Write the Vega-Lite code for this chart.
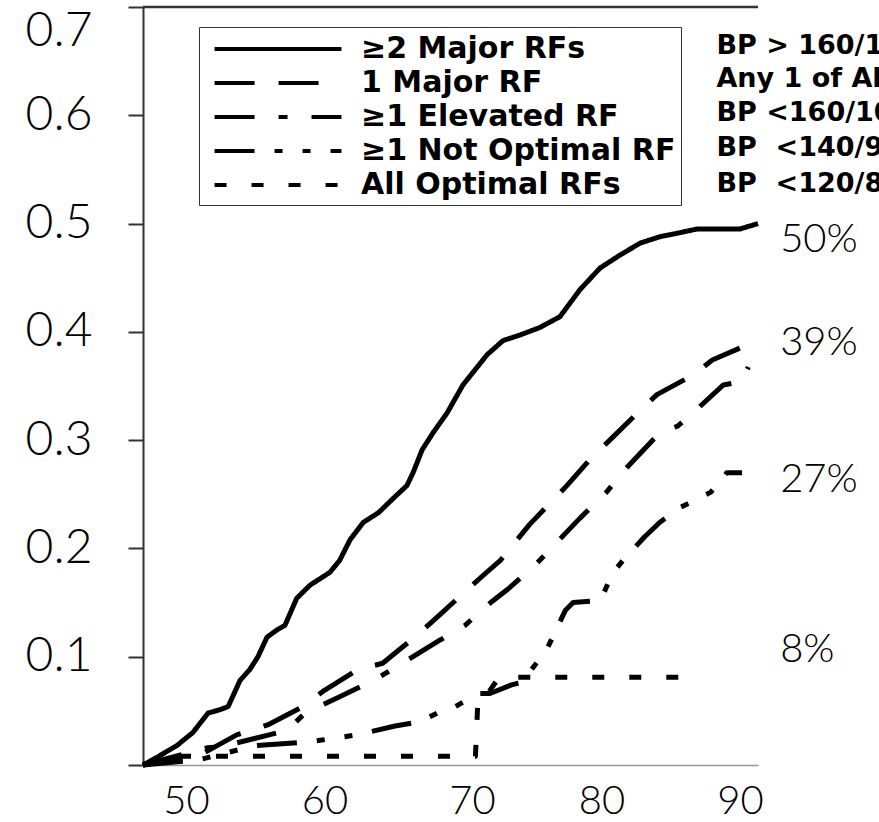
{
  "$schema": "https://vega.github.io/schema/vega-lite/v6.json",
  "autosize": "none",
  "width": 615,
  "height": 758,
  "padding": {"left": 143, "top": 7, "right": 121, "bottom": 57},
  "background": "white",
  "config": {"view": {"stroke": null}},
  "datasets": {
    "curves": [
      {"g": "≥2 Major RFs", "a": 46.9, "v": 0},
      {"g": "≥2 Major RFs", "a": 47.9, "v": 0.007},
      {"g": "≥2 Major RFs", "a": 49.35, "v": 0.018},
      {"g": "≥2 Major RFs", "a": 50.5, "v": 0.03},
      {"g": "≥2 Major RFs", "a": 51.6, "v": 0.048},
      {"g": "≥2 Major RFs", "a": 52.45, "v": 0.051},
      {"g": "≥2 Major RFs", "a": 53.05, "v": 0.054},
      {"g": "≥2 Major RFs", "a": 53.9, "v": 0.078},
      {"g": "≥2 Major RFs", "a": 54.6, "v": 0.088},
      {"g": "≥2 Major RFs", "a": 55.2, "v": 0.1},
      {"g": "≥2 Major RFs", "a": 55.85, "v": 0.118},
      {"g": "≥2 Major RFs", "a": 56.6, "v": 0.125},
      {"g": "≥2 Major RFs", "a": 57.15, "v": 0.129},
      {"g": "≥2 Major RFs", "a": 58.0, "v": 0.154},
      {"g": "≥2 Major RFs", "a": 58.95, "v": 0.166},
      {"g": "≥2 Major RFs", "a": 60.4, "v": 0.178},
      {"g": "≥2 Major RFs", "a": 61.1, "v": 0.189},
      {"g": "≥2 Major RFs", "a": 61.85, "v": 0.208},
      {"g": "≥2 Major RFs", "a": 62.8, "v": 0.224},
      {"g": "≥2 Major RFs", "a": 63.9, "v": 0.233},
      {"g": "≥2 Major RFs", "a": 64.95, "v": 0.246},
      {"g": "≥2 Major RFs", "a": 65.95, "v": 0.258},
      {"g": "≥2 Major RFs", "a": 66.4, "v": 0.27},
      {"g": "≥2 Major RFs", "a": 67.05, "v": 0.291},
      {"g": "≥2 Major RFs", "a": 67.85, "v": 0.307},
      {"g": "≥2 Major RFs", "a": 68.85, "v": 0.325},
      {"g": "≥2 Major RFs", "a": 70.0, "v": 0.351},
      {"g": "≥2 Major RFs", "a": 71.75, "v": 0.379},
      {"g": "≥2 Major RFs", "a": 72.9, "v": 0.392},
      {"g": "≥2 Major RFs", "a": 74.1, "v": 0.397},
      {"g": "≥2 Major RFs", "a": 75.55, "v": 0.404},
      {"g": "≥2 Major RFs", "a": 77.0, "v": 0.414},
      {"g": "≥2 Major RFs", "a": 78.45, "v": 0.439},
      {"g": "≥2 Major RFs", "a": 79.9, "v": 0.459},
      {"g": "≥2 Major RFs", "a": 81.35, "v": 0.471},
      {"g": "≥2 Major RFs", "a": 82.8, "v": 0.482},
      {"g": "≥2 Major RFs", "a": 84.25, "v": 0.488},
      {"g": "≥2 Major RFs", "a": 85.45, "v": 0.491},
      {"g": "≥2 Major RFs", "a": 86.9, "v": 0.495},
      {"g": "≥2 Major RFs", "a": 90.0, "v": 0.495},
      {"g": "≥2 Major RFs", "a": 91.3, "v": 0.5},

      {"g": "1 Major RF", "a": 46.9, "v": 0},
      {"g": "1 Major RF", "a": 51.0, "v": 0.009},
      {"g": "1 Major RF", "a": 53.7, "v": 0.028},
      {"g": "1 Major RF", "a": 55.9, "v": 0.037},
      {"g": "1 Major RF", "a": 58.45, "v": 0.054},
      {"g": "1 Major RF", "a": 60.0, "v": 0.069},
      {"g": "1 Major RF", "a": 62.4, "v": 0.088},
      {"g": "1 Major RF", "a": 64.2, "v": 0.094},
      {"g": "1 Major RF", "a": 66.7, "v": 0.12},
      {"g": "1 Major RF", "a": 68.3, "v": 0.1385},
      {"g": "1 Major RF", "a": 70.15, "v": 0.16},
      {"g": "1 Major RF", "a": 71.45, "v": 0.175},
      {"g": "1 Major RF", "a": 72.7, "v": 0.189},
      {"g": "1 Major RF", "a": 74.8, "v": 0.222},
      {"g": "1 Major RF", "a": 77.5, "v": 0.258},
      {"g": "1 Major RF", "a": 79.3, "v": 0.284},
      {"g": "1 Major RF", "a": 80.6, "v": 0.3},
      {"g": "1 Major RF", "a": 82.6, "v": 0.325},
      {"g": "1 Major RF", "a": 84.0, "v": 0.342},
      {"g": "1 Major RF", "a": 86.6, "v": 0.36},
      {"g": "1 Major RF", "a": 88.0, "v": 0.374},
      {"g": "1 Major RF", "a": 90.9, "v": 0.39},

      {"g": "≥1 Elevated RF", "a": 46.9, "v": 0},
      {"g": "≥1 Elevated RF", "a": 51.6, "v": 0.016},
      {"g": "≥1 Elevated RF", "a": 52.6, "v": 0.017},
      {"g": "≥1 Elevated RF", "a": 57.3, "v": 0.032},
      {"g": "≥1 Elevated RF", "a": 58.6, "v": 0.048},
      {"g": "≥1 Elevated RF", "a": 61.1, "v": 0.063},
      {"g": "≥1 Elevated RF", "a": 63.8, "v": 0.08},
      {"g": "≥1 Elevated RF", "a": 66.0, "v": 0.097},
      {"g": "≥1 Elevated RF", "a": 68.3, "v": 0.115},
      {"g": "≥1 Elevated RF", "a": 70.15, "v": 0.129},
      {"g": "≥1 Elevated RF", "a": 72.0, "v": 0.15},
      {"g": "≥1 Elevated RF", "a": 73.3, "v": 0.163},
      {"g": "≥1 Elevated RF", "a": 75.35, "v": 0.1865},
      {"g": "≥1 Elevated RF", "a": 78.45, "v": 0.228},
      {"g": "≥1 Elevated RF", "a": 80.3, "v": 0.251},
      {"g": "≥1 Elevated RF", "a": 81.85, "v": 0.275},
      {"g": "≥1 Elevated RF", "a": 84.2, "v": 0.3066},
      {"g": "≥1 Elevated RF", "a": 85.5, "v": 0.313},
      {"g": "≥1 Elevated RF", "a": 87.1, "v": 0.331},
      {"g": "≥1 Elevated RF", "a": 88.8, "v": 0.351},
      {"g": "≥1 Elevated RF", "a": 90.1, "v": 0.354},
      {"g": "≥1 Elevated RF", "a": 90.6, "v": 0.3675},

      {"g": "≥1 Not Optimal RF", "a": 46.9, "v": 0},
      {"g": "≥1 Not Optimal RF", "a": 51.0, "v": 0.005},
      {"g": "≥1 Not Optimal RF", "a": 55.0, "v": 0.018},
      {"g": "≥1 Not Optimal RF", "a": 58.45, "v": 0.021},
      {"g": "≥1 Not Optimal RF", "a": 59.8, "v": 0.023},
      {"g": "≥1 Not Optimal RF", "a": 62.4, "v": 0.028},
      {"g": "≥1 Not Optimal RF", "a": 65.1, "v": 0.036},
      {"g": "≥1 Not Optimal RF", "a": 66.9, "v": 0.04},
      {"g": "≥1 Not Optimal RF", "a": 68.3, "v": 0.049},
      {"g": "≥1 Not Optimal RF", "a": 69.4, "v": 0.0536},
      {"g": "≥1 Not Optimal RF", "a": 71.1, "v": 0.066},
      {"g": "≥1 Not Optimal RF", "a": 71.95, "v": 0.066},
      {"g": "≥1 Not Optimal RF", "a": 73.5, "v": 0.074},
      {"g": "≥1 Not Optimal RF", "a": 74.3, "v": 0.0766},
      {"g": "≥1 Not Optimal RF", "a": 75.35, "v": 0.095},
      {"g": "≥1 Not Optimal RF", "a": 76.1, "v": 0.108},
      {"g": "≥1 Not Optimal RF", "a": 76.65, "v": 0.123},
      {"g": "≥1 Not Optimal RF", "a": 77.4, "v": 0.143},
      {"g": "≥1 Not Optimal RF", "a": 77.95, "v": 0.15},
      {"g": "≥1 Not Optimal RF", "a": 79.9, "v": 0.152},
      {"g": "≥1 Not Optimal RF", "a": 80.1, "v": 0.157},
      {"g": "≥1 Not Optimal RF", "a": 80.8, "v": 0.177},
      {"g": "≥1 Not Optimal RF", "a": 81.55, "v": 0.189},
      {"g": "≥1 Not Optimal RF", "a": 83.1, "v": 0.2105},
      {"g": "≥1 Not Optimal RF", "a": 84.2, "v": 0.224},
      {"g": "≥1 Not Optimal RF", "a": 85.7, "v": 0.238},
      {"g": "≥1 Not Optimal RF", "a": 86.5, "v": 0.243},
      {"g": "≥1 Not Optimal RF", "a": 87.9, "v": 0.252},
      {"g": "≥1 Not Optimal RF", "a": 89.05, "v": 0.27},
      {"g": "≥1 Not Optimal RF", "a": 90.15, "v": 0.27},

      {"g": "All Optimal RFs", "a": 46.9, "v": 0},
      {"g": "All Optimal RFs", "a": 49.5, "v": 0.008},
      {"g": "All Optimal RFs", "a": 55.0, "v": 0.008},
      {"g": "All Optimal RFs", "a": 60.0, "v": 0.008},
      {"g": "All Optimal RFs", "a": 65.0, "v": 0.008},
      {"g": "All Optimal RFs", "a": 70.9, "v": 0.008},
      {"g": "All Optimal RFs", "a": 71.1, "v": 0.066},
      {"g": "All Optimal RFs", "a": 71.9, "v": 0.068},
      {"g": "All Optimal RFs", "a": 72.6, "v": 0.081},
      {"g": "All Optimal RFs", "a": 80.0, "v": 0.081},
      {"g": "All Optimal RFs", "a": 86.9, "v": 0.081}
    ],
    "pct": [
      {"t": "50%", "a": 92.9, "v": 0.485},
      {"t": "39%", "a": 92.9, "v": 0.39},
      {"t": "27%", "a": 92.9, "v": 0.263},
      {"t": "8%", "a": 92.9, "v": 0.106}
    ],
    "bp": [
      {"t": "BP > 160/100", "a": 88.3, "v": 0.664},
      {"t": "Any 1 of Above", "a": 88.3, "v": 0.6334},
      {"t": "BP <160/100", "a": 88.3, "v": 0.602},
      {"t": "BP\u00a0 <140/90", "a": 88.3, "v": 0.5697},
      {"t": "BP\u00a0 <120/80", "a": 88.3, "v": 0.537}
    ]
  },
  "layer": [
    {
      "data": {"values": [{"v": 0.7}]},
      "mark": {"type": "rule", "stroke": "#333", "strokeWidth": 2.5},
      "encoding": {"y": {"field": "v", "type": "quantitative", "scale": {"domain": [0, 0.7], "nice": false}}}
    },
    {
      "data": {"name": "curves"},
      "mark": {"type": "line", "stroke": "black", "strokeWidth": 5, "strokeJoin": "round", "clip": false},
      "encoding": {
        "x": {
          "field": "a", "type": "quantitative",
          "scale": {"domain": [46.9, 91.3], "nice": false, "zero": false},
          "axis": {
            "title": null, "values": [50, 60, 70, 80, 90], "ticks": false, "grid": false,
            "domainColor": "#999", "domainWidth": 1.5,
            "labelFont": "Lato", "labelFontWeight": 300, "labelFontSize": 40, "labelColor": "black",
            "labelPadding": 16,
            "labelOffset": {"condition": {"test": "datum.value == 70", "value": 9}, "value": 0}
          }
        },
        "y": {
          "field": "v", "type": "quantitative",
          "scale": {"domain": [0, 0.7], "nice": false},
          "axis": {
            "title": null, "values": [0, 0.1, 0.2, 0.3, 0.4, 0.5, 0.6, 0.7], "grid": false,
            "labelExpr": "datum.value == 0 ? '' : format(datum.value, '.1f')",
            "tickSize": 15, "tickColor": "#333", "tickWidth": 2,
            "domainColor": "#333", "domainWidth": 2,
            "labelFont": "Lato", "labelFontWeight": 300, "labelFontSize": 48, "labelColor": "black",
            "labelPadding": 36,
            "labelBaseline": {"condition": {"test": "datum.value >= 0.7", "value": "top"}, "value": "middle"}
          }
        },
        "strokeDash": {
          "field": "g", "type": "nominal",
          "scale": {
            "domain": ["≥2 Major RFs", "1 Major RF", "≥1 Elevated RF", "≥1 Not Optimal RF", "All Optimal RFs"],
            "range": [[1, 0], [40, 24], [40, 24, 9, 24], [40, 20, 8, 20, 8, 20], [12, 25]]
          },
          "legend": {
            "title": null, "orient": "none", "legendX": 56, "legendY": 20,
            "strokeColor": "#333", "fillColor": "white", "padding": 5,
            "symbolType": "M-4.23,0H4.23", "symbolSize": 900, "symbolStrokeWidth": 4, "symbolStrokeColor": "black",
            "symbolOffset": 57,
            "labelFont": "DejaVu Sans", "labelFontWeight": "bold", "labelFontSize": 30, "labelColor": "black",
            "labelOffset": 66, "rowPadding": 2, "labelLimit": 600
          }
        }
      }
    },
    {
      "data": {"name": "pct"},
      "mark": {"type": "text", "align": "left", "baseline": "middle", "font": "Lato", "fontWeight": 300, "fontSize": 40, "color": "black"},
      "encoding": {
        "x": {"field": "a", "type": "quantitative"},
        "y": {"field": "v", "type": "quantitative"},
        "text": {"field": "t"}
      }
    },
    {
      "data": {"name": "bp"},
      "mark": {"type": "text", "align": "left", "baseline": "middle", "font": "DejaVu Sans", "fontWeight": "bold", "fontSize": 27, "color": "black"},
      "encoding": {
        "x": {"field": "a", "type": "quantitative"},
        "y": {"field": "v", "type": "quantitative"},
        "text": {"field": "t"}
      }
    }
  ]
}
